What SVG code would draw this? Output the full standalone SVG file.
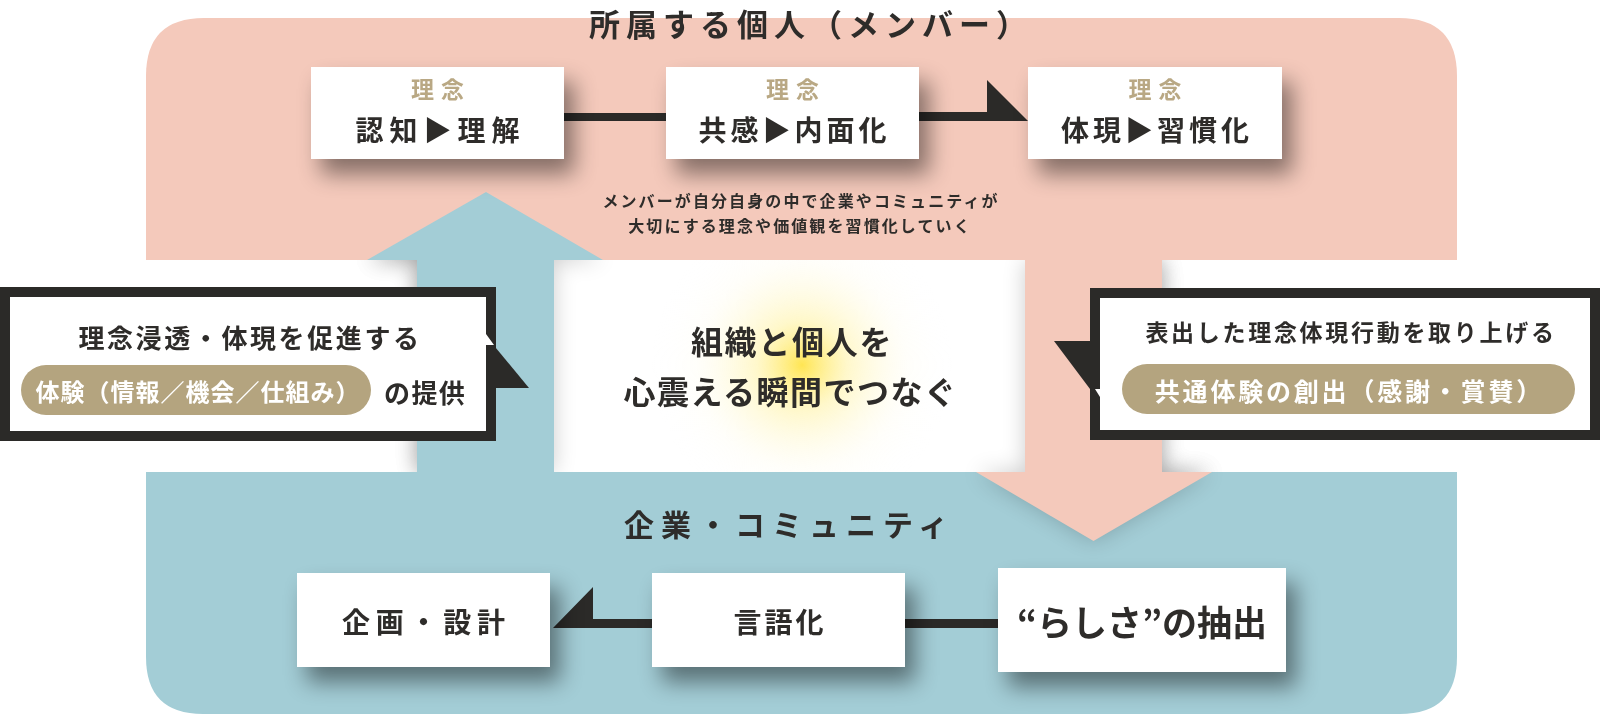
<svg xmlns="http://www.w3.org/2000/svg" width="1600" height="715" viewBox="0 0 1600 715">
  <defs>
    <style>
      .t { font-family: "Noto Sans CJK JP", "Noto Sans CJK SC", sans-serif; font-weight: 700; fill: #2e2c2a; text-anchor: middle; }
      .tan { fill: #b9a884; }
      .wt { fill: #ffffff; }
      .box { fill: #ffffff; }
      .conn { fill: #2b2a28; }
      .pill { fill: #b4a47f; }
      .pink { fill: #f4c9bb; }
      .blue { fill: #a3cdd6; }
    </style>
    <filter id="shadow" x="-25%" y="-35%" width="160%" height="200%">
      <feGaussianBlur in="SourceAlpha" stdDeviation="11"/>
      <feOffset dx="10" dy="15" result="b"/>
      <feFlood flood-color="#000000" flood-opacity="0.45"/>
      <feComposite in2="b" operator="in"/>
      <feMerge><feMergeNode/><feMergeNode in="SourceGraphic"/></feMerge>
    </filter>
    <filter id="blur10" x="-30%" y="-30%" width="160%" height="160%">
      <feGaussianBlur stdDeviation="11"/>
    </filter>
    <radialGradient id="glow" cx="802" cy="365" r="150" gradientUnits="userSpaceOnUse">
      <stop offset="0" stop-color="#ffe44a" stop-opacity="0.95"/>
      <stop offset="0.3" stop-color="#fff2a0" stop-opacity="0.55"/>
      <stop offset="0.7" stop-color="#fffbe6" stop-opacity="0.2"/>
      <stop offset="1" stop-color="#ffffff" stop-opacity="0"/>
    </radialGradient>
    <clipPath id="band"><rect x="0" y="260" width="1600" height="212"/></clipPath>
    <clipPath id="lower"><rect x="0" y="260" width="1600" height="455"/></clipPath>
  </defs>

  <rect x="0" y="0" width="1600" height="715" fill="#ffffff"/>

  <g id="background">
    <path class="pink" d="M146,260 V76 Q146,18 204,18 H1399 Q1457,18 1457,76 V260 Z"/>
    <path class="blue" d="M146,472 H1457 V657 Q1457,714 1400,714 H203 Q146,714 146,657 Z"/>
    <g clip-path="url(#band)" opacity="0.22">
      <polygon fill="#000" filter="url(#blur10)" points="417,472 417,260 367,260 486,192 603,260 554,260 554,472"/>
    </g>
    <g clip-path="url(#lower)" opacity="0.2">
      <polygon fill="#000" filter="url(#blur10)" points="1025,260 1025,472 976,472 1093.5,541 1212,472 1162,472 1162,260"/>
    </g>
  </g>

  <g id="center">
    <rect x="554" y="260" width="471" height="212" fill="#ffffff"/>
    <g clip-path="url(#band)" opacity="0.2">
      <polygon fill="#000" filter="url(#blur10)" points="417,472 417,260 367,260 486,192 603,260 554,260 554,472"/>
      <polygon fill="#000" filter="url(#blur10)" points="1025,260 1025,472 976,472 1093.5,541 1212,472 1162,472 1162,260"/>
    </g>
    <rect x="554" y="260" width="471" height="212" fill="url(#glow)"/>
    <text class="t" x="792" y="354" font-size="32" letter-spacing="1.7" fill="#3a3835">組織と個人を</text>
    <text class="t" x="790.5" y="404" font-size="32" letter-spacing="1.5">心震える瞬間でつなぐ</text>
  </g>

  <g id="arrow-up">
    <polygon class="blue" points="417,473 417,260 367,260 486,192 603,260 554,260 554,473"/>
  </g>
  <g id="arrow-down">
    <polygon class="pink" points="1025,259 1025,472 976,472 1093.5,541 1212,472 1162,472 1162,259"/>
  </g>

  <g id="connectors">
    <rect class="conn" x="564" y="113" width="102" height="8"/>
    <path class="conn" d="M919,112 H987 V80 L1028,121 H919 Z"/>
    <path class="conn" d="M652,619 H593 V587 L553,628 H652 Z"/>
    <rect class="conn" x="905" y="619" width="93" height="9"/>
  </g>

  <g id="titles">
    <text class="t" x="811" y="36" font-size="31" letter-spacing="6">所属する個人（メンバー）</text>
    <text class="t" x="801" y="207" font-size="16" letter-spacing="2.1">メンバーが自分自身の中で企業やコミュニティが</text>
    <text class="t" x="800" y="232" font-size="16" letter-spacing="2.1">大切にする理念や価値観を習慣化していく</text>
    <text class="t" x="789.5" y="536" font-size="30" letter-spacing="7">企業・コミュニティ</text>
  </g>

  <g id="node-ninchi" filter="url(#shadow)">
    <rect class="box" x="311" y="67" width="253" height="92"/>
  </g>
  <g id="node-ninchi-text">
    <text class="t tan" x="441" y="98" font-size="23" letter-spacing="7">理念</text>
    <text class="t" x="440.5" y="141" font-size="28" letter-spacing="6">認知▶理解</text>
  </g>

  <g id="node-kyokan" filter="url(#shadow)">
    <rect class="box" x="666" y="67" width="253" height="92"/>
  </g>
  <g id="node-kyokan-text">
    <text class="t tan" x="796" y="98" font-size="23" letter-spacing="7">理念</text>
    <text class="t" x="794.5" y="141" font-size="28" letter-spacing="4">共感▶内面化</text>
  </g>

  <g id="node-taigen" filter="url(#shadow)">
    <rect class="box" x="1028" y="67" width="254" height="92"/>
  </g>
  <g id="node-taigen-text">
    <text class="t tan" x="1158.5" y="98" font-size="23" letter-spacing="7">理念</text>
    <text class="t" x="1157" y="141" font-size="28" letter-spacing="4">体現▶習慣化</text>
  </g>

  <g id="node-kikaku" filter="url(#shadow)">
    <rect class="box" x="297" y="573" width="253" height="94"/>
  </g>
  <text class="t" x="426.4" y="633" font-size="28" letter-spacing="5.8">企画・設計</text>

  <g id="node-gengoka" filter="url(#shadow)">
    <rect class="box" x="652" y="573" width="253" height="94"/>
  </g>
  <text class="t" x="780" y="633" font-size="28" letter-spacing="3">言語化</text>

  <g id="node-rashisa" filter="url(#shadow)">
    <rect class="box" x="998" y="568" width="288" height="104"/>
  </g>
  <text class="t" x="1142" y="636" font-size="35">“らしさ”の抽出</text>

  <g id="bubble-left">
    <rect class="conn" x="0" y="287" width="496" height="154"/>
    <polygon class="conn" points="486,336 529,388 490,388"/>
    <path fill="#ffffff" d="M10,297 H486 V334 L494,345 L486,345 V431 H10 Z"/>
    <text class="t" x="250" y="348" font-size="26" letter-spacing="2.6">理念浸透・体現を促進する</text>
    <rect class="pill" x="21" y="365" width="350" height="50" rx="25"/>
    <text class="t wt" x="198" y="401" font-size="24" letter-spacing="1">体験（情報／機会／仕組み）</text>
    <text class="t" x="384" y="403" font-size="26" letter-spacing="1.4" style="text-anchor:start">の提供</text>
  </g>

  <g id="bubble-right">
    <rect class="conn" x="1090" y="288" width="510" height="152"/>
    <polygon class="conn" points="1054,341 1100,341 1104,397 1096,397"/>
    <path fill="#ffffff" d="M1100,298 H1590 V430 H1100 V397 L1095,389 L1100,389 Z"/>
    <text class="t" x="1351" y="341" font-size="23" letter-spacing="2.7">表出した理念体現行動を取り上げる</text>
    <rect class="pill" x="1122" y="364" width="453" height="50" rx="25"/>
    <text class="t wt" x="1349.4" y="401" font-size="25" letter-spacing="2.8">共通体験の創出（感謝・賞賛）</text>
  </g>
</svg>
